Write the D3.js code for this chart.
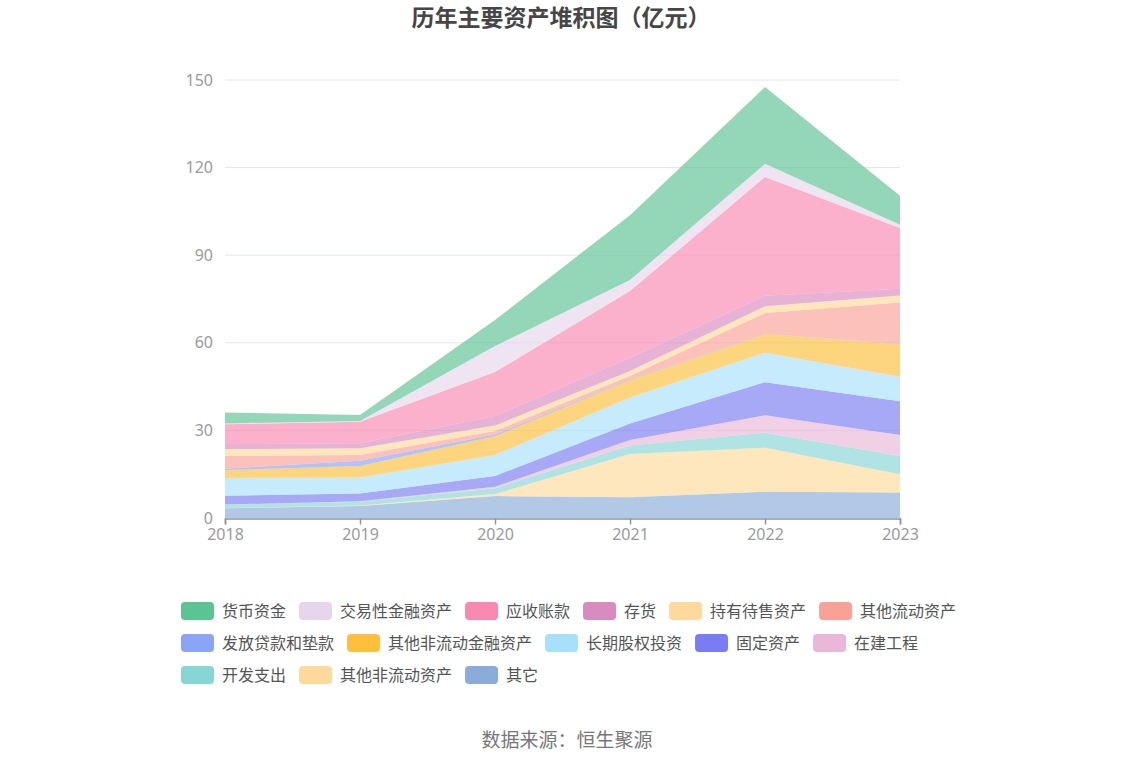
<!DOCTYPE html>
<html>
<head>
<meta charset="utf-8">
<script src="https://cdn.jsdelivr.net/npm/d3@7"></script>
<style>
  body { margin: 0; background: #fff; }
  text { font-family: "Noto Sans CJK SC", "Noto Sans", sans-serif; }
</style>
</head>
<body>
<div id="chart"></div>
<script>
// 年份
var years = ['2018', '2019', '2020', '2021', '2022', '2023'];

// 各项资产（亿元），按图例顺序
var 货币资金 = [3.7, 2.1, 8.9, 22.2, 26.3, 10.0];
var 交易性金融资产 = [0.3, 0.2, 8.9, 3.8, 4.5, 1.1];
var 应收账款 = [6.8, 7.4, 15.1, 22.8, 40.7, 20.8];
var 存货 = [1.7, 1.7, 3.2, 4.6, 3.6, 2.3];
var 持有待售资产 = [2.4, 2.3, 1.9, 1.7, 2.3, 2.4];
var 其他流动资产 = [4.3, 2.0, 1.2, 1.1, 7.1, 14.2];
var 发放贷款和垫款 = [0.5, 1.8, 0.6, 0.2, 0.1, 0.1];
var 其他非流动金融资产 = [2.7, 3.9, 6.4, 6.0, 6.4, 11.1];
var 长期股权投资 = [6.1, 5.5, 7.2, 8.9, 10.1, 8.4];
var 固定资产 = [3.0, 2.7, 3.7, 5.7, 11.3, 11.6];
var 在建工程 = [0.1, 0.1, 0.5, 1.9, 6.0, 7.2];
var 开发支出 = [1.1, 1.3, 2.0, 2.9, 5.1, 6.2];
var 其他非流动资产 = [0.1, 0.2, 0.7, 14.8, 15.1, 6.3];
var 其它 = [3.3, 4.1, 7.5, 7.1, 9.0, 8.7];

var seriesNames = ['货币资金', '交易性金融资产', '应收账款', '存货', '持有待售资产', '其他流动资产',
  '发放贷款和垫款', '其他非流动金融资产', '长期股权投资', '固定资产', '在建工程', '开发支出',
  '其他非流动资产', '其它'];
var seriesValues = [货币资金, 交易性金融资产, 应收账款, 存货, 持有待售资产, 其他流动资产,
  发放贷款和垫款, 其他非流动金融资产, 长期股权投资, 固定资产, 在建工程, 开发支出,
  其他非流动资产, 其它];
var colors = ['#5cc393', '#e6d6ec', '#f989b0', '#d98abf', '#fdd99b', '#f9a196',
  '#8aa4f8', '#fec03c', '#a7e0fb', '#7a7cf3', '#e9b7d8', '#87d6d6',
  '#fdd99b', '#8aacdb'];

var yTicks = [0, 30, 60, 90, 120, 150];

var width = 1134, height = 766;
var svg = d3.select('#chart').append('svg')
  .attr('width', width)
  .attr('height', height);

var margin = { top: 80, right: 234, bottom: 248, left: 225 };

var x = d3.scalePoint()
  .domain(years)
  .range([margin.left, width - margin.right]);

var y = d3.scaleLinear()
  .domain([0, 150])
  .range([height - margin.bottom, margin.top]);

// 表格：每年一行
var table = years.map(function (yr, i) {
  var row = { year: yr };
  seriesNames.forEach(function (n, j) { row[n] = seriesValues[j][i]; });
  return row;
});

// 其它在最底层
var stackKeys = seriesNames.slice().reverse();
var stacked = d3.stack().keys(stackKeys)(table);

// 网格线
svg.append('g')
  .selectAll('line')
  .data(yTicks.filter(function (d) { return d > 0; }))
  .enter().append('line')
  .attr('x1', margin.left)
  .attr('x2', width - margin.right)
  .attr('y1', function (d) { return y(d); })
  .attr('y2', function (d) { return y(d); })
  .attr('stroke', '#e3e6f2')
  .attr('stroke-width', 1);

var area = d3.area()
  .x(function (d) { return x(d.data.year); })
  .y0(function (d) { return y(d[0]); })
  .y1(function (d) { return y(d[1]); });

svg.append('g')
  .selectAll('path')
  .data(stacked)
  .enter().append('path')
  .attr('d', area)
  .attr('fill', function (d) { return colors[seriesNames.indexOf(d.key)]; })
  .attr('fill-opacity', 0.66);

// y 轴
var yAxis = d3.axisLeft(y).tickValues(yTicks).tickSize(0).tickPadding(12);
var gy = svg.append('g')
  .attr('transform', 'translate(' + margin.left + ',0)')
  .call(yAxis);
gy.select('.domain').remove();
gy.selectAll('text')
  .attr('fill', '#9a9a9a')
  .style('font-size', '16px')
  .style('font-family', '"Noto Sans", "Open Sans", sans-serif');

// x 轴
var xAxis = d3.axisBottom(x).tickSize(6).tickPadding(4);
var gx = svg.append('g')
  .attr('transform', 'translate(0,' + (height - margin.bottom + 0.5) + ')')
  .call(xAxis);
gx.select('.domain').attr('stroke', '#8c93a0').attr('stroke-width', 1.5);
gx.selectAll('line').attr('stroke', '#8c93a0').attr('stroke-width', 1.5);
gx.selectAll('text')
  .attr('fill', '#9a9a9a')
  .style('font-size', '16px')
  .style('font-family', '"Noto Sans", "Open Sans", sans-serif');

// 标题
svg.append('text')
  .attr('x', 561)
  .attr('y', 26)
  .attr('text-anchor', 'middle')
  .attr('fill', '#464646')
  .style('font-size', '23px')
  .style('font-weight', 'bold')
  .text('历年主要资产堆积图（亿元）');

// 图例
var legendLeft = 181, legendRight = 960, rowH = 32, firstRow = 611;
var swW = 33, swH = 18, gap = 13;
var lx = legendLeft, ly = firstRow;
var legend = svg.append('g');
seriesNames.forEach(function (name, i) {
  var item = legend.append('g');
  item.append('rect')
    .attr('width', swW)
    .attr('height', swH)
    .attr('rx', 4)
    .attr('fill', colors[i]);
  var t = item.append('text')
    .attr('x', swW + 8)
    .attr('y', swH / 2)
    .attr('dy', '0.35em')
    .attr('fill', '#555')
    .style('font-size', '16px')
    .text(name);
  var w = swW + 8 + t.node().getComputedTextLength();
  if (lx + w > legendRight) {
    lx = legendLeft;
    ly += rowH;
  }
  item.attr('transform', 'translate(' + lx + ',' + (ly - swH / 2) + ')');
  lx += w + gap;
});

// 数据来源
svg.append('text')
  .attr('x', 567)
  .attr('y', 747)
  .attr('text-anchor', 'middle')
  .attr('fill', '#777')
  .style('font-size', '19px')
  .text('数据来源：恒生聚源');
</script>
</body>
</html>
